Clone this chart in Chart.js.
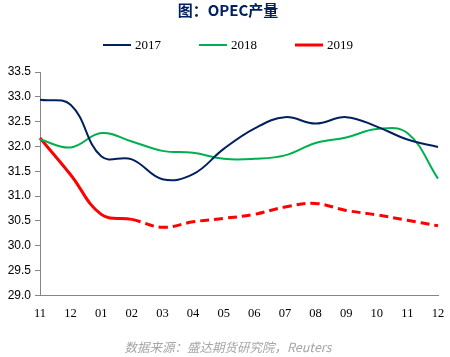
<!DOCTYPE html>
<html>
<head>
<meta charset="utf-8">
<script src="https://cdn.jsdelivr.net/npm/chart.js@4"></script>
<style>
html,body{margin:0;padding:0;background:#fff;}
#wrap{width:450px;height:357px;}
</style>
</head>
<body>
<div id="wrap"><canvas id="c" width="450" height="357"></canvas></div>
<script>
const categories = ["11","12","01","02","03","04","05","06","07","08","09","10","11","12"];
const s2017 = [32.94,32.84,31.80,31.74,31.34,31.44,31.95,32.36,32.59,32.46,32.59,32.40,32.14,31.99];
const s2018 = [32.14,31.98,32.27,32.10,31.91,31.87,31.75,31.75,31.82,32.07,32.18,32.35,32.27,31.35];
const s2019 = [32.17,31.43,30.63,30.53,30.37,30.48,30.55,30.63,30.78,30.85,30.71,30.62,30.51,30.40];
const seriesNames = ["2017","2018","2019"];
const yTicks = {min:29.0, max:33.5, step:0.5};

// simple custom legend drawn from the chart's own datasets
const lineLegend = {
  id:'lineLegend',
  afterDraw(chart){
    const ctx = chart.ctx;
    const ds = chart.data.datasets;
    const lineW = 28, gap = 4, itemGap = 38, y = 45;
    ctx.save();
    ctx.font = '13px "Liberation Serif"';
    ctx.textBaseline = 'middle';
    const widths = ds.map(d => lineW + gap + ctx.measureText(d.label).width);
    const total = widths.reduce((a,b)=>a+b,0) + itemGap*(ds.length-1);
    let x = 228 - total/2;
    ds.forEach((d,i)=>{
      ctx.strokeStyle = d.borderColor;
      ctx.lineWidth = d.borderWidth;
      ctx.beginPath();
      ctx.moveTo(x, y); ctx.lineTo(x+lineW, y);
      ctx.stroke();
      ctx.fillStyle = '#000';
      ctx.textAlign = 'left';
      ctx.fillText(d.label, x+lineW+gap, y+1);
      x += widths[i] + itemGap;
    });
    ctx.restore();
  }
};

new Chart(document.getElementById('c'), {
  type: 'line',
  data: {
    labels: categories,
    datasets: [
      {label: seriesNames[0], data: s2017, borderColor:'#002060', backgroundColor:'#002060', borderWidth:2, pointRadius:0, tension:0.4, fill:false},
      {label: seriesNames[1], data: s2018, borderColor:'#00B050', backgroundColor:'#00B050', borderWidth:2, pointRadius:0, tension:0.4, fill:false},
      {label: seriesNames[2], data: s2019, borderColor:'#FF0000', backgroundColor:'#FF0000', borderWidth:3, pointRadius:0, tension:0.4, fill:false,
        segment: {borderDash: ctx => ctx.p0DataIndex >= 3 ? [9,5] : undefined}}
    ]
  },
  plugins:[lineLegend],
  options: {
    responsive:false,
    animation:false,
    devicePixelRatio:1,
    layout:{padding:{left:6,right:0,top:1,bottom:3}},
    plugins:{
      title:{display:true,text:'图：OPEC产量',color:'#002060',font:{family:'"Noto Sans CJK SC"',size:15,weight:'bold',lineHeight:1.2},padding:{top:0,bottom:53}},
      subtitle:{display:true,position:'bottom',text:'数据来源：盛达期货研究院，Reuters',color:'#A6A6A6',font:{family:'"Noto Sans CJK SC"',size:12.5,style:'italic',lineHeight:1.1},padding:{top:14,bottom:0}},
      legend:{display:false},
      tooltip:{enabled:false}
    },
    scales:{
      x:{
        offset:false,
        grid:{display:false,drawTicks:true,tickLength:6},
        border:{display:true,color:'#868686',width:1},
        ticks:{color:'#000',font:{family:'"Liberation Serif"',size:12.5},maxRotation:0,autoSkip:false,padding:5}
      },
      y:{
        min:yTicks.min,max:yTicks.max,
        afterFit: s => { s.width = 34; },
        grid:{display:true,drawOnChartArea:false,drawTicks:true,tickLength:5,color:'#868686'},
        border:{display:true,color:'#868686',width:1},
        ticks:{stepSize:yTicks.step,color:'#000',font:{family:'"Liberation Sans"',size:12},padding:4,callback:v=>Number(v).toFixed(1)}
      },
      yR:{
        type:'linear',position:'right',display:true,
        afterFit: s => { s.width = 12; },
        grid:{display:false,drawTicks:false},
        border:{display:false},
        ticks:{display:false}
      }
    }
  }
});
</script>
</body>
</html>
